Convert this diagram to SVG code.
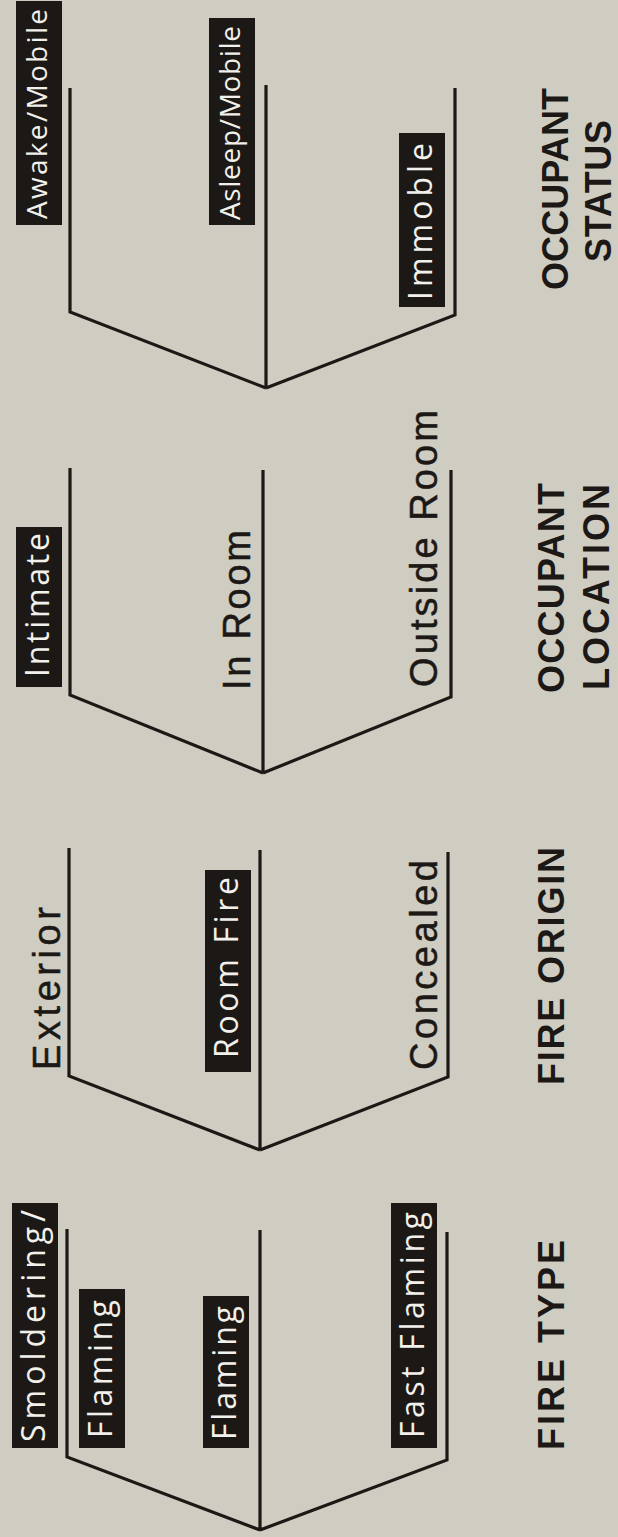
<svg xmlns="http://www.w3.org/2000/svg" width="618" height="1537" viewBox="0 0 618 1537">
<style>
.bg{fill:#cfcdc1}
.box{fill:#1c1816}
.wt{fill:#f2f0ea;font-family:"Open Sans","Liberation Sans",Arial,sans-serif;font-weight:400;font-size:32px}
.sm{font-size:28px}
.bt{fill:#1c1816;stroke:#1c1816;stroke-width:0.5;font-family:"Liberation Sans",Arial,sans-serif;font-size:38px}
.hd{fill:#1c1816;font-family:"Liberation Sans",Arial,sans-serif;font-size:36px;font-weight:bold}
.ln{fill:none;stroke:#1c1816;stroke-width:3.2;stroke-linejoin:miter}
</style>
<rect class="bg" x="0" y="0" width="618" height="1537"/>
<g id="connectors">
<path class="ln" d="M70,88 V312 L266,388 M266,85 V388 M455,88 V315 L266,388"/>
<path class="ln" d="M70,468 V695 L263,773 M263,470 V773 M451,470 V697 L263,773"/>
<path class="ln" d="M69,848 V1076 L260,1150 M260,850 V1150 M448,852 V1077 L260,1150"/>
<path class="ln" d="M67,1229 V1457 L260,1530 M260,1230 V1530 M447,1232 V1460 L260,1530"/>
</g>
<g id="occupant-status">
<g id="awake-mobile"><rect class="box" x="16" y="1" width="46" height="224"/><text class="wt sm" transform="translate(47,219) rotate(-90)" textLength="210" lengthAdjust="spacing">Awake/Mobile</text></g>
<g id="asleep-mobile"><rect class="box" x="209" y="18" width="46" height="207"/><text class="wt sm" transform="translate(240,220) rotate(-90)" textLength="194" lengthAdjust="spacing">Asleep/Mobile</text></g>
<g id="immoble"><rect class="box" x="399" y="133" width="46" height="174"/><text class="wt" transform="translate(432,300) rotate(-90)" textLength="157" lengthAdjust="spacing">Immoble</text></g>
<g id="hdr-status"><text class="hd" transform="translate(568,290) rotate(-90)" textLength="202" lengthAdjust="spacing">OCCUPANT</text><text class="hd" transform="translate(611,262) rotate(-90)" textLength="142" lengthAdjust="spacing">STATUS</text></g>
</g>
<g id="occupant-location">
<g id="intimate"><rect class="box" x="16" y="527" width="46" height="160"/><text class="wt" transform="translate(49,677) rotate(-90)" textLength="144" lengthAdjust="spacing">Intimate</text></g>
<g id="in-room"><text class="bt" transform="translate(250,690) rotate(-90)" textLength="160" lengthAdjust="spacing">In Room</text></g>
<g id="outside-room"><text class="bt" transform="translate(437,687) rotate(-90)" textLength="277" lengthAdjust="spacing">Outside Room</text></g>
<g id="hdr-location"><text class="hd" transform="translate(564,693) rotate(-90)" textLength="210" lengthAdjust="spacing">OCCUPANT</text><text class="hd" transform="translate(609,690) rotate(-90)" textLength="206" lengthAdjust="spacing">LOCATION</text></g>
</g>
<g id="fire-origin">
<g id="exterior"><text class="bt" transform="translate(60,1070) rotate(-90)" textLength="163" lengthAdjust="spacing">Exterior</text></g>
<g id="room-fire"><rect class="box" x="205" y="870" width="46" height="202"/><text class="wt" transform="translate(238,1058) rotate(-90)" textLength="181" lengthAdjust="spacing">Room Fire</text></g>
<g id="concealed"><text class="bt" transform="translate(437,1070) rotate(-90)" textLength="210" lengthAdjust="spacing">Concealed</text></g>
<g id="hdr-origin"><text class="hd" transform="translate(564,1085) rotate(-90)" textLength="238" lengthAdjust="spacing">FIRE ORIGIN</text></g>
</g>
<g id="fire-type">
<g id="smoldering-flaming"><rect class="box" x="12" y="1203" width="46" height="245"/><text class="wt" transform="translate(45,1442) rotate(-90)" textLength="232" lengthAdjust="spacing">Smoldering/</text><rect class="box" x="79" y="1289" width="46" height="159"/><text class="wt" transform="translate(112,1438) rotate(-90)" textLength="138" lengthAdjust="spacing">Flaming</text></g>
<g id="flaming"><rect class="box" x="203" y="1296" width="46" height="152"/><text class="wt" transform="translate(236,1440) rotate(-90)" textLength="134" lengthAdjust="spacing">Flaming</text></g>
<g id="fast-flaming"><rect class="box" x="391" y="1203" width="46" height="245"/><text class="wt" transform="translate(424,1438) rotate(-90)" textLength="226" lengthAdjust="spacing">Fast Flaming</text></g>
<g id="hdr-type"><text class="hd" transform="translate(564,1450) rotate(-90)" textLength="210" lengthAdjust="spacing">FIRE TYPE</text></g>
</g>
</svg>
